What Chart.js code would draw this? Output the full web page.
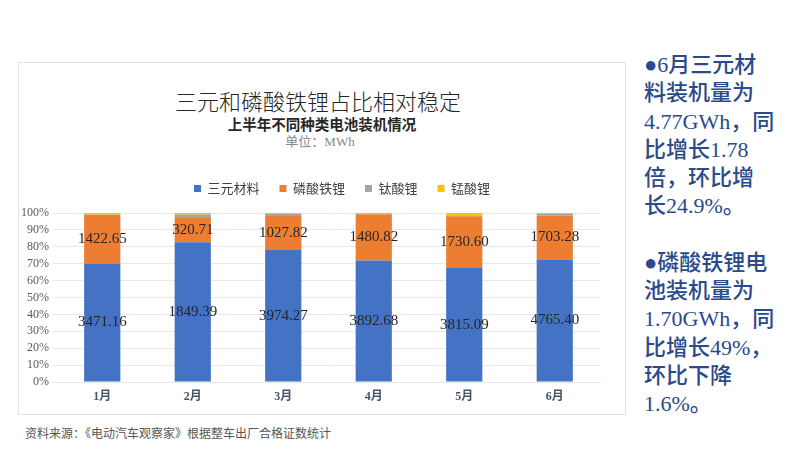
<!DOCTYPE html>
<html>
<head>
<meta charset="utf-8">
<script src="https://cdn.jsdelivr.net/npm/chart.js@4.4.1/dist/chart.umd.min.js"></script>
<style>
  body { margin: 0; width: 800px; height: 450px; background: #fff; position: relative; overflow: hidden;
         font-family: "Noto Sans CJK SC", sans-serif; }
  #frame { position: absolute; left: 18px; top: 62px; width: 608px; height: 353px; border: 1px solid #e2e2e2; box-sizing: border-box; }
  .t { position: absolute; white-space: nowrap; text-align: center; }
  #title { left: 0; width: 636px; top: 85px; font-size: 22px; font-weight: 300; color: #262626; line-height: 30px; }
  #sub { left: 0; width: 644px; top: 114px; font-size: 14.5px; font-weight: 700; color: #262626; line-height: 20px; }
  #unit { left: 0; width: 640px; top: 133px; font-size: 13px; color: #888; line-height: 18px; font-family: "Liberation Serif", "Noto Sans CJK SC", serif; }
  #chartBox { position: absolute; left: 0; top: 150px; width: 612px; height: 265px; }
  #src { position: absolute; left: 25px; top: 424px; font-size: 12px; color: #555; line-height: 18px; }
  #side { position: absolute; left: 644px; top: 51px; font-size: 22px; line-height: 28.3px; color: #2b4a8b; font-weight: 500;
          font-family: "Liberation Serif", "Noto Sans CJK SC", serif; white-space: nowrap; }
</style>
</head>
<body>
<div id="frame"></div>
<div class="t" id="title">三元和磷酸铁锂占比相对稳定</div>
<div class="t" id="sub">上半年不同种类电池装机情况</div>
<div class="t" id="unit">单位：MWh</div>
<div id="chartBox"><canvas id="grafico"></canvas></div>
<div id="src">资料来源：《电动汽车观察家》根据整车出厂合格证数统计</div>
<div id="side">
●6月三元材<br>料装机量为<br>4.77GWh，同<br>比增长1.78<br>倍，环比增<br>长24.9%。<br>
<div style="height:28px"></div>
●磷酸铁锂电<br>池装机量为<br>1.70GWh，同<br>比增长49%，<br>环比下降<br>1.6%。
</div>

<script>
var months = ['1月', '2月', '3月', '4月', '5月', '6月'];
var sanyuan = [3471.16, 1849.39, 3974.27, 3892.68, 3815.09, 4765.40];
var linsuan = [1422.65, 320.71, 1027.82, 1480.82, 1730.60, 1703.28];
var taisuan = [10, 45, 60, 0, 5, 60];
var mengsuan = [50, 20, 30, 40, 100, 40];
var yTicks = [0, 10, 20, 30, 40, 50, 60, 70, 80, 90, 100];

var series = [sanyuan, linsuan, taisuan, mengsuan];
var totals = months.map(function (m, i) {
    return sanyuan[i] + linsuan[i] + taisuan[i] + mengsuan[i];
});

function pct(arr) {
    return arr.map(function (v, i) { return v / totals[i] * 100; });
}

// valores dentro das barras (so os dois primeiros)
var barLabels = {
    id: 'barLabels',
    afterDatasetsDraw: function (chart) {
        var ctx = chart.ctx;
        ctx.save();
        ctx.font = '15px "Liberation Serif", serif';
        ctx.fillStyle = '#262626';
        ctx.textAlign = 'center';
        ctx.textBaseline = 'middle';
        [0, 1].forEach(function (d) {
            var meta = chart.getDatasetMeta(d);
            meta.data.forEach(function (bar, i) {
                var y = (bar.y + bar.base) / 2;
                ctx.fillText(series[d][i].toFixed(2), bar.x, y);
            });
        });
        ctx.restore();
    }
};

// legenda: altura fixa e deslocada pra direita
var legendFix = {
    id: 'legendFix',
    afterInit: function (chart) {
        var lg = chart.legend;
        var fit = lg.fit;
        lg.fit = function () {
            fit.call(this);
            this.height = 51;
        };
    },
    afterLayout: function (chart) {
        chart.legend.left += 42;
        chart.legend.right += 42;
    }
};

var chartdata = {
    labels: months,
    datasets: [
        { label: '三元材料', data: pct(sanyuan), backgroundColor: '#4472c4' },
        { label: '磷酸铁锂', data: pct(linsuan), backgroundColor: '#ed7d31' },
        { label: '钛酸锂', data: pct(taisuan), backgroundColor: '#a5a5a5' },
        { label: '锰酸锂', data: pct(mengsuan), backgroundColor: '#ffc000' }
    ]
};

new Chart(document.getElementById('grafico'), {
    type: 'bar',
    data: chartdata,
    options: {
        responsive: true,
        maintainAspectRatio: false,
        animation: false,
        layout: { padding: { left: 0, right: 12, top: 12, bottom: 0 } },
        datasets: { bar: { barPercentage: 0.4, categoryPercentage: 1.0 } },
        plugins: {
            legend: {
                position: 'top',
                labels: {
                    boxWidth: 7, boxHeight: 7, padding: 20,
                    color: '#404040',
                    font: { size: 13, family: '"Noto Sans CJK SC", sans-serif' }
                }
            },
            tooltip: { enabled: false }
        },
        scales: {
            x: {
                stacked: true,
                grid: { display: false, drawTicks: false },
                border: { color: '#e6e6e6' },
                afterFit: function (axis) { axis.height = 33; },
                ticks: { color: '#44546a', font: { size: 12, weight: 'bold', family: '"Liberation Serif", "Noto Sans CJK SC", serif' }, padding: 8 }
            },
            y: {
                stacked: true,
                min: 0, max: 100,
                afterBuildTicks: function (axis) {
                    axis.ticks = yTicks.map(function (v) { return { value: v }; });
                },
                afterFit: function (axis) { axis.width = 57; },
                grid: { color: '#e8e8e8', tickLength: 4 },
                border: { display: false },
                ticks: {
                    autoSkip: false,
                    color: '#595959',
                    padding: 4,
                    font: { size: 12, family: '"Liberation Serif", serif' },
                    callback: function (v) { return v + '%'; }
                }
            }
        }
    },
    plugins: [barLabels, legendFix]
});
</script>
</body>
</html>
